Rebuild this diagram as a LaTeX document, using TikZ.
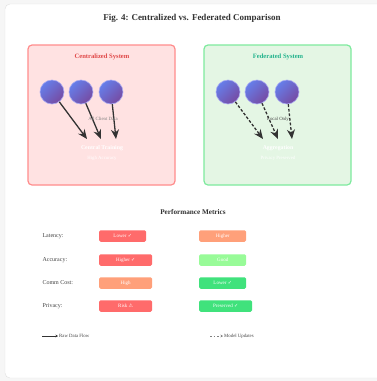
\documentclass[tikz,border=0pt]{standalone}
\usepackage{fontspec}
\setmainfont{Liberation Serif}
\newfontfamily\symfont{DejaVu Sans}
\usetikzlibrary{arrows.meta,positioning}

\definecolor{pagebg}{HTML}{F6F6F6}
\definecolor{cardline}{HTML}{E0E0E0}
\definecolor{redfill}{HTML}{FFE2E2}
\definecolor{redline}{HTML}{FF8C8C}
\definecolor{redtext}{HTML}{E04848}
\definecolor{greenfill}{HTML}{E4F6E4}
\definecolor{greenline}{HTML}{7EEA9E}
\definecolor{greentext}{HTML}{22B38C}
\definecolor{circA}{HTML}{667EEA}
\definecolor{circB}{HTML}{764BA2}
\definecolor{circline}{HTML}{A9A9F2}
\definecolor{arrowdark}{HTML}{333333}
\definecolor{titlegray}{HTML}{333333}
\definecolor{labelgray}{HTML}{444444}
\definecolor{badred}{HTML}{FF6B6B}
\definecolor{badorange}{HTML}{FFA07A}
\definecolor{okgreen}{HTML}{98FB98}
\definecolor{goodgreen}{HTML}{40E27C}

\begin{document}
\begin{tikzpicture}[x=1pt,y=-1pt,
  client/.style={circle,minimum size=24pt,inner sep=0pt,draw=circline,line width=0.6pt,
    top color=circA,bottom color=circB,shading angle=45},
  flow/.style={-{Stealth[length=9.5pt,width=8pt]},line width=1.3pt,draw=arrowdark},
  update/.style={flow,dash pattern=on 2.8pt off 1.8pt},
  badge/.style={rounded corners=1.5pt,text=white,font=\fontsize{5}{6}\selectfont,
    minimum height=11.5pt,inner sep=0pt,anchor=west},
  metric/.style={anchor=west,text=labelgray,font=\fontsize{6}{7}\selectfont},
  small/.style={font=\fontsize{4.8}{5.5}\selectfont}]
\useasboundingbox (0,0) rectangle (377,381);
\fill[pagebg] (0,0) rectangle (377,381);
% card
\draw[cardline,fill=white,rounded corners=5pt] (5,4) rectangle (395,378);
\node[text=titlegray,font=\bfseries\fontsize{9}{10}\selectfont] (title) at (192,18) {Fig. 4: Centralized vs. Federated Comparison};

% centralized system
\draw[redline,fill=redfill,line width=1.2pt,rounded corners=4pt] (28,45) rectangle (175,185);
\node[text=redtext,font=\bfseries\fontsize{6.6}{7}\selectfont] (ctitle) at (102,57) {Centralized System};
\node[client] (cc1) at (52,92) {};
\node[client] (cc2) at (81,92) {};
\node[client] (cc3) at (111,92) {};
\coordinate (ce1) at (87,139);
\coordinate (ce2) at (101,139);
\coordinate (ce3) at (116,139);
\draw[flow] (cc1) -- (ce1);
\draw[flow] (cc2) -- (ce2);
\draw[flow] (cc3) -- (ce3);
\node[small,text=gray] (cdata) at (103,119) {All Client Data};
\node[text=white,font=\bfseries\fontsize{5.8}{6}\selectfont] (ctrain) at (102,148) {Central Training};
\node[small,text=white] (cacc) at (102,158) {High Accuracy};

% federated system
\draw[greenline,fill=greenfill,line width=1.2pt,rounded corners=4pt] (204,45) rectangle (351,185);
\node[text=greentext,font=\bfseries\fontsize{6.6}{7}\selectfont] (ftitle) at (278,57) {Federated System};
\node[client] (fc1) at (228,92) {};
\node[client] (fc2) at (257,92) {};
\node[client] (fc3) at (287,92) {};
\coordinate (fe1) at (263,139);
\coordinate (fe2) at (278,139);
\coordinate (fe3) at (292,139);
\draw[update] (fc1) -- (fe1);
\draw[update] (fc2) -- (fe2);
\draw[update] (fc3) -- (fe3);
\node[small,text=labelgray] (fdata) at (278,119) {Local Only};
\node[text=white,font=\bfseries\fontsize{5.8}{6}\selectfont] (fagg) at (278,148) {Aggregation};
\node[small,text=white] (fpriv) at (278,158) {Privacy Preserved};

% metrics
\node[text=titlegray,font=\bfseries\fontsize{7.2}{8}\selectfont] (ptitle) at (193,212) {Performance Metrics};
\node[metric] (lat) at (39,236) {Latency:};
\node[metric] (acc) at (39,260) {Accuracy:};
\node[metric] (comm) at (39,283) {Comm Cost:};
\node[metric] (priv) at (39,306) {Privacy:};
\node[badge,fill=badred,minimum width=47pt] (lat1) at (99,236) {Lower {\symfont ✓}};
\node[badge,fill=badorange,minimum width=47pt] (lat2) at (199,236) {Higher};
\node[badge,fill=badred,minimum width=53pt] (acc1) at (99,260) {Higher {\symfont ✓}};
\node[badge,fill=okgreen,minimum width=47pt] (acc2) at (199,260) {Good};
\node[badge,fill=badorange,minimum width=53pt] (comm1) at (99,283) {High};
\node[badge,fill=goodgreen,minimum width=47pt] (comm2) at (199,283) {Lower {\symfont ✓}};
\node[badge,fill=badred,minimum width=53pt] (priv1) at (99,306) {Risk {\symfont ⚠}};
\node[badge,fill=goodgreen,minimum width=53pt] (priv2) at (199,306) {Preserved {\symfont ✓}};

% legend
\coordinate (rawa) at (42,336);
\coordinate (rawb) at (58,336);
\draw[line width=0.9pt,draw=arrowdark,-{Stealth[length=2.5pt,width=2.5pt]}] (rawa) -- (rawb);
\node[small,text=labelgray,anchor=west,inner sep=1pt] (rawtxt) at (rawb) {Raw Data Flow};
\coordinate (moda) at (210,336);
\coordinate (modb) at (223,336);
\draw[line width=0.6pt,draw=gray,dash pattern=on 1.5pt off 2pt,-{Stealth[length=2.5pt,width=2.5pt]}] (moda) -- (modb);
\node[small,text=labelgray,anchor=west,inner sep=1pt] (modtxt) at (modb) {Model Updates};
\end{tikzpicture}
\end{document}
